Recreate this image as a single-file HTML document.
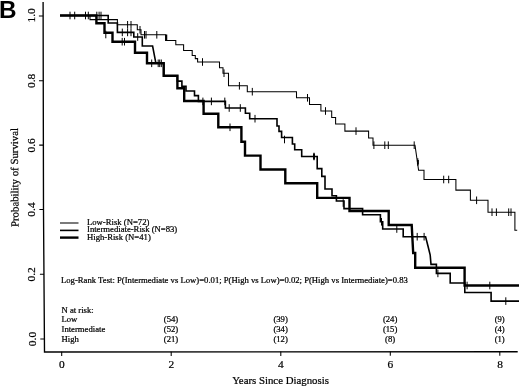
<!DOCTYPE html>
<html><head><meta charset="utf-8"><title>Figure B</title>
<style>
html,body{margin:0;padding:0;background:#fff;}
svg{display:block;}
text{font-family:"Liberation Serif",serif;fill:#000;stroke:#000;stroke-width:0.22px;}
.b{stroke:none;font-family:"Liberation Sans",sans-serif;font-weight:bold;font-size:24.3px;fill:#000;}
.ax{stroke:#000;stroke-width:1.35;fill:none;}
.tk{stroke-width:1.05;}
.t{font-size:10.8px;}
.s{font-size:8.67px;}
.t .k{font-size:11.4px;}
</style></head><body>
<svg width="520" height="388" viewBox="0 0 520 388">
<rect width="520" height="388" fill="#fff"/>
<text class="b" x="-1" y="17.8">B</text>
<!-- axes -->
<path class="ax" d="M43.1 2 L43.5 210 L44.5 352 L517.7 351.7"/>
<path class="ax tk" d="M38.9 15.9H43.1 M39 80.7H43.2 M39.2 145.1H43.4 M39.4 209.4H43.5 M39.9 274.2H44 M40.3 339H44.4"/>
<path class="ax tk" d="M61.7 351.7V356 M171.2 351.7V356 M280.8 351.6V356 M390.3 351.5V355.8 M499.8 351.4V355.7"/>
<g class="t" text-anchor="middle">
<text class="k" x="61.8" y="368.2">0</text><text class="k" x="171.3" y="368.2">2</text><text class="k" x="280.9" y="368.2">4</text><text class="k" x="390.4" y="368.2">6</text><text class="k" x="500.0" y="368.2">8</text>
<text class="k" transform="translate(34.6,15.4) rotate(-90)">1.0</text>
<text class="k" transform="translate(34.7,80.8) rotate(-90)">0.8</text>
<text class="k" transform="translate(34.8,145.3) rotate(-90)">0.6</text>
<text class="k" transform="translate(35,209.5) rotate(-90)">0.4</text>
<text class="k" transform="translate(35.4,274.3) rotate(-90)">0.2</text>
<text class="k" transform="translate(35.8,339) rotate(-90)">0.0</text>
<text transform="translate(18.2,177.5) rotate(-90.4)">Probability of Survival</text>
<text x="280.5" y="383.5">Years Since Diagnosis</text>
</g>
<g class="s">
<text x="87" y="224.5">Low-Risk (N=72)</text>
<text x="87" y="232.2">Intermediate-Risk (N=83)</text>
<text x="87" y="239.9">High-Risk (N=41)</text>
<text x="61" y="282.5">Log-Rank Test: P(Intermediate vs Low)=0.01; P(High vs Low)=0.02; P(High vs Intermediate)=0.83</text>
<text x="61.5" y="312.5">N at risk:</text>
<text x="61.5" y="322.3">Low</text>
<text x="61.5" y="332.2">Intermediate</text>
<text x="61.5" y="342.3">High</text>
<g text-anchor="middle">
<text x="171" y="322.3">(54)</text><text x="171" y="332.2">(52)</text><text x="171" y="342.3">(21)</text>
<text x="280.6" y="322.3">(39)</text><text x="280.6" y="332.2">(34)</text><text x="280.6" y="342.3">(12)</text>
<text x="390.1" y="322.3">(24)</text><text x="390.1" y="332.2">(15)</text><text x="390.1" y="342.3">(8)</text>
<text x="499.7" y="322.3">(9)</text><text x="499.7" y="332.2">(4)</text><text x="499.7" y="342.3">(1)</text>
</g>
</g>
<!-- legend lines -->
<path d="M60 223H78.5" stroke="#000" stroke-width="1.05"/>
<path d="M60 230.4H78.5" stroke="#000" stroke-width="1.6"/>
<path d="M60 237.6H78.5" stroke="#000" stroke-width="2.4"/>
<!-- CURVES-START -->
<g fill="none" stroke="#000" stroke-linejoin="miter">
<path d="M60,15.5 H90 V19.6 H117.4 V24.8 H137.3 V29.8 H141 V34.8 H165.6 V40.4 H175.8 V44.7 H183.6 V50.4 H192.2 V55.5 H195.3 V58.6 H197.6 V62 H219.5 V67.8 H223 V73.2 H228.5 V85.8 H247.3 V91.7 H296.5 V97.8 H309.5 V104.4 H320.9 V111 H331.7 V117.5 H335.6 V124 H344.9 V131.1 H368.6 V138 H373 V145.2 H415 L418.6,170.2 H424 V179.5 H455.9 V190.1 H470.4 V200.3 H488 V212.2 H514.9 V230.2 H517.2" stroke-width="1.05"/>
<path d="M70,11.7V19.3 M74.7,11.7V19.3 M85.5,11.7V19.3 M88.3,11.7V19.3 M96.8,11.7V19.3 M99.1,11.7V19.3 M101,11.7V19.3 M127.6,21.0V28.6 M131,21.0V28.6 M140,26.0V33.6 M144.5,31.0V38.6 M146,31.0V38.6 M156.8,31.0V38.6 M202.5,58.2V65.8 M224,69.4V77.0 M239.4,82.0V89.6 M252.3,87.9V95.5 M307.5,94.0V101.6 M325.5,107.2V114.8 M356,127.3V134.9 M373.9,141.4V149.0 M384.8,141.4V149.0 M388.3,141.4V149.0 M414.2,141.4V149.0 M417.8,158.2V165.8 M443.7,175.7V183.3 M448.7,175.7V183.3 M476.6,196.5V204.1 M492,208.4V216.0 M496.4,208.4V216.0 M508.7,208.4V216.0 M511,208.4V216.0" stroke-width="1"/>
<path d="M60,15.5 H108.2 V23 H117.4 V32.4 H133.8 V37 H142.3 V46 H152.6 L155.9,63.3 H163.7 V75.8 H177.4 V81.1 H181.9 V86.3 H186 V91 H194.5 V95.6 H198.4 V101.4 H225.4 V108 H245.4 V113.3 H249.7 V118.7 H277 V126 H279 V131.4 H281.6 V137.5 H292.4 V144 H294.7 V149.8 H301.7 V156.5 H317.2 V168.6 H321.8 V176.4 H325 V189 H332 V195.8 H336.4 V201 H344 V208.6 H362.6 V214.8 H380.4 V221.8 H382.7 V229 H403.2 V236.7 H425.6 L427.9,245.8 L430.2,255.1 L431,264.4 H436.4 V273.4 H450.2 V283 H464.8 V292.5 H491.1 V301.1 H519" stroke-width="1.6"/>
<path d="M122.3,28.6V36.2 M127.6,28.6V36.2 M131,28.6V36.2 M137.7,33.2V40.8 M158.2,59.5V67.1 M159.7,59.5V67.1 M161.3,59.5V67.1 M202.9,97.6V105.2 M211.4,97.6V105.2 M224.8,97.6V105.2 M229.2,104.2V111.8 M240.3,104.2V111.8 M255,114.9V122.5 M284.5,135.7V143.3 M314,152.7V160.3 M343.2,199.2V206.8 M381.5,218.0V225.6 M396.8,225.2V232.8 M417.2,232.9V240.5 M424.1,232.9V240.5 M437.9,269.6V277.2 M505.8,297.3V304.9" stroke-width="1"/>
<path d="M60,15.5 H96.4 V23.2 H104.5 V32.7 H112.5 V41.7 H135 V52.7 H147 V63.3 H163.7 V75.8 H177.4 V88.2 H184.2 V101 H203.6 V113.7 H218.3 V127.3 H241.4 V141.7 H245 V155.6 H260.5 V169.5 H285.3 V183.3 H317.2 V197.9 H349.5 V211 H388.7 V225 H411.7 L413.2,253 H415.2 V267.8 H464.6 V285.5 H519" stroke-width="2.4"/>
<path d="M105.8,30.7V38.3 M122.2,37.9V45.5 M124.5,37.9V45.5 M151.7,59.5V67.1 M230,123.5V131.1 M467.1,281.7V289.3 M489.8,281.7V289.3" stroke-width="1"/>
<path d="M166.3,34.5V41 M417.9,160V164.5 M314,153.5V159.5" stroke-width="1.9"/>
</g>
<!-- CURVES-END -->
</svg>
</body></html>
